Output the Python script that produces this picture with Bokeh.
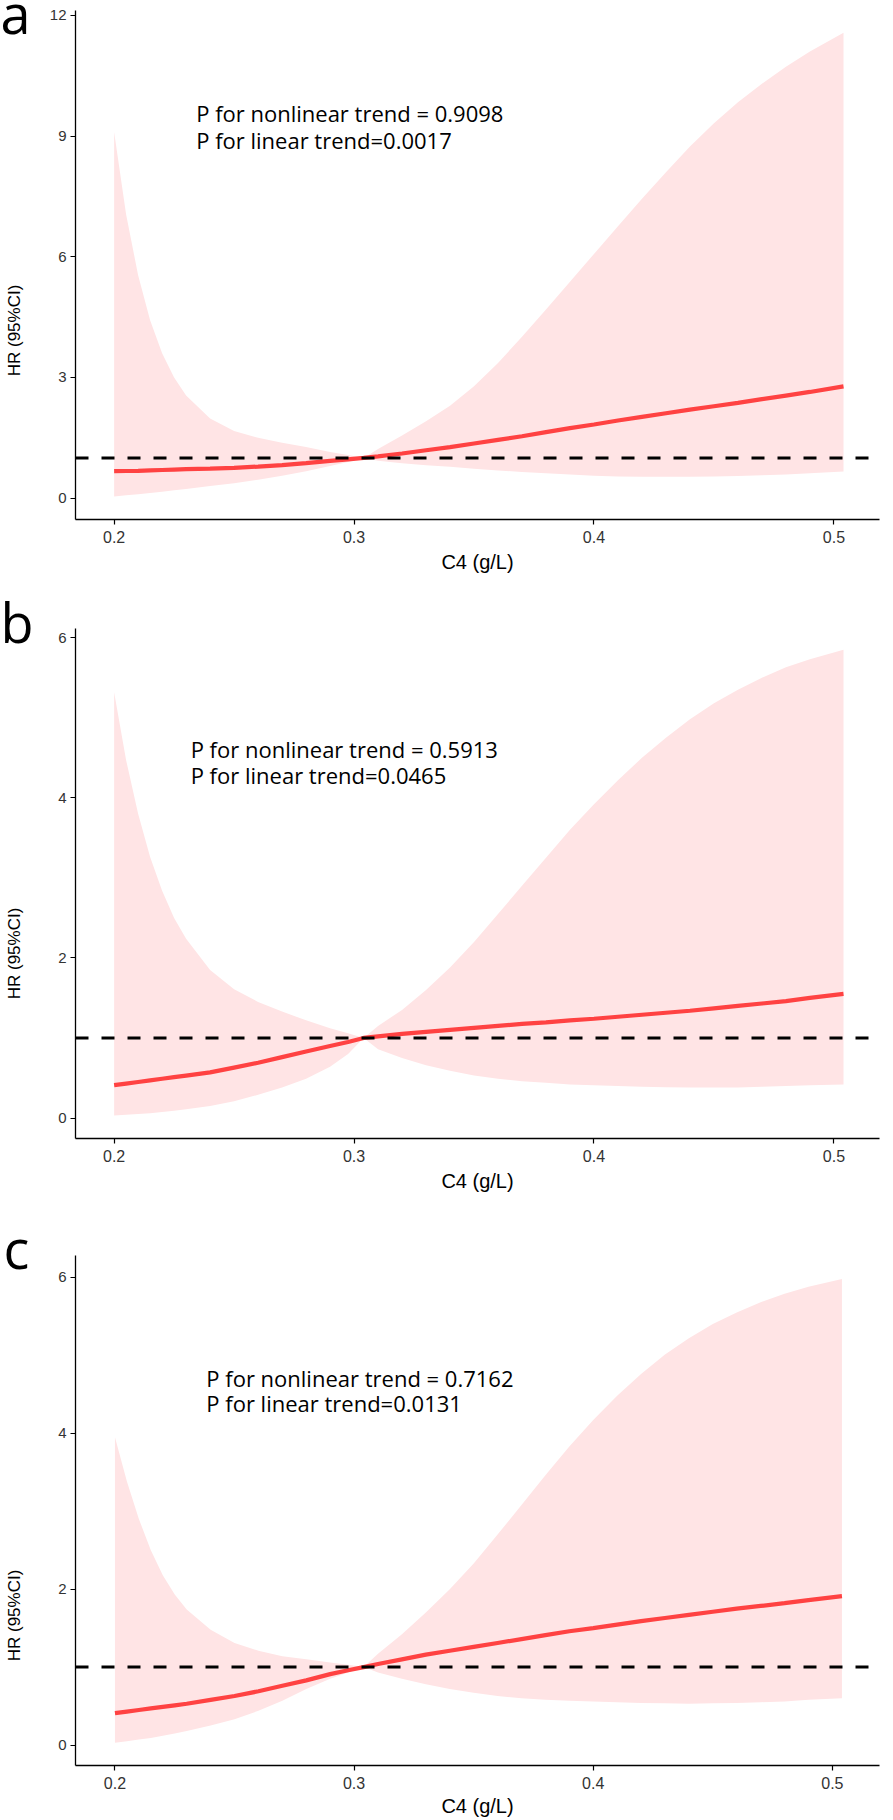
from bokeh.plotting import figure
from bokeh.models import Span, Label, FixedTicker, Range1d
from bokeh.layouts import column, row
from bokeh.core.properties import value
from bokeh.embed import file_html
from bokeh.resources import INLINE

# ---------------- data ----------------
c4 = [0.200, 0.205, 0.210, 0.215, 0.220, 0.225, 0.230, 0.240, 0.250, 0.260,
      0.270, 0.280, 0.290, 0.2975, 0.304, 0.310, 0.320, 0.330, 0.340, 0.350,
      0.360, 0.370, 0.380, 0.390, 0.400, 0.410, 0.420, 0.430, 0.440, 0.450,
      0.460, 0.470, 0.480, 0.490, 0.504]

a_hr = [0.67, 0.675, 0.68, 0.69, 0.70, 0.71, 0.72, 0.735, 0.755, 0.785,
        0.82, 0.87, 0.925, 0.965, 1.00, 1.04, 1.11, 1.19, 1.27, 1.36,
        1.45, 1.54, 1.64, 1.74, 1.83, 1.93, 2.02, 2.11, 2.20, 2.285,
        2.37, 2.46, 2.55, 2.64, 2.78]
a_lo = [0.04, 0.07, 0.10, 0.13, 0.16, 0.20, 0.23, 0.30, 0.37, 0.46,
        0.56, 0.67, 0.80, 0.90, 1.00, 0.93, 0.87, 0.82, 0.78, 0.73,
        0.69, 0.65, 0.62, 0.59, 0.56, 0.54, 0.53, 0.53, 0.53, 0.54,
        0.55, 0.57, 0.59, 0.62, 0.66]
a_hi = [9.10, 7.05, 5.54, 4.42, 3.60, 3.00, 2.55, 1.98, 1.67, 1.50,
        1.38, 1.27, 1.15, 1.07, 1.00, 1.22, 1.56, 1.91, 2.30, 2.78,
        3.36, 4.01, 4.69, 5.38, 6.07, 6.76, 7.44, 8.10, 8.74, 9.32,
        9.84, 10.30, 10.72, 11.10, 11.57]

b_hr = [0.41, 0.43, 0.45, 0.47, 0.49, 0.51, 0.53, 0.57, 0.63, 0.69,
        0.76, 0.83, 0.90, 0.95, 1.00, 1.02, 1.05, 1.075, 1.10, 1.125,
        1.15, 1.175, 1.195, 1.22, 1.24, 1.265, 1.29, 1.315, 1.34, 1.37,
        1.40, 1.43, 1.46, 1.50, 1.55]
b_lo = [0.03, 0.04, 0.05, 0.06, 0.075, 0.09, 0.11, 0.15, 0.21, 0.29,
        0.38, 0.49, 0.64, 0.80, 1.00, 0.86, 0.75, 0.66, 0.59, 0.53,
        0.49, 0.46, 0.44, 0.42, 0.41, 0.40, 0.39, 0.385, 0.38, 0.38,
        0.38, 0.39, 0.40, 0.41, 0.42]
b_hi = [5.32, 4.47, 3.80, 3.26, 2.84, 2.50, 2.24, 1.85, 1.61, 1.45,
        1.33, 1.22, 1.12, 1.06, 1.00, 1.15, 1.35, 1.60, 1.88, 2.20,
        2.55, 2.90, 3.25, 3.60, 3.92, 4.22, 4.50, 4.75, 4.98, 5.18,
        5.35, 5.50, 5.63, 5.73, 5.85]

c_hr = [0.41, 0.43, 0.45, 0.47, 0.49, 0.51, 0.53, 0.58, 0.63, 0.69,
        0.76, 0.83, 0.91, 0.96, 1.00, 1.04, 1.10, 1.16, 1.21, 1.26,
        1.31, 1.36, 1.41, 1.46, 1.50, 1.545, 1.59, 1.63, 1.67, 1.71,
        1.75, 1.785, 1.82, 1.86, 1.91]
c_lo = [0.03, 0.05, 0.07, 0.09, 0.12, 0.15, 0.18, 0.25, 0.33, 0.44,
        0.57, 0.72, 0.85, 0.93, 1.00, 0.93, 0.85, 0.78, 0.72, 0.67,
        0.63, 0.60, 0.58, 0.57, 0.56, 0.55, 0.54, 0.535, 0.53, 0.535,
        0.54, 0.55, 0.56, 0.58, 0.60]
c_hi = [3.95, 3.38, 2.90, 2.50, 2.18, 1.93, 1.74, 1.48, 1.31, 1.21,
        1.14, 1.10, 1.06, 1.03, 1.00, 1.17, 1.42, 1.70, 2.00, 2.33,
        2.70, 3.08, 3.46, 3.83, 4.17, 4.48, 4.76, 5.01, 5.22, 5.40,
        5.55, 5.68, 5.79, 5.88, 5.98]

x_ticks = [0.2, 0.3, 0.4, 0.5]
a_yticks = [0, 3, 6, 9, 12]
bc_yticks = [0, 2, 4, 6]

a_notes = ["P for nonlinear trend = 0.9098", "P for linear trend=0.0017"]
b_notes = ["P for nonlinear trend = 0.5913", "P for linear trend=0.0465"]
c_notes = ["P for nonlinear trend = 0.7162", "P for linear trend=0.0131"]

letters = ["a", "b", "c"]
x_title = "C4 (g/L)"
y_title = "HR (95%CI)"

RED = "#FF4242"
BAND = "#FFE4E5"
STRIP = 40
PAGE_H = 1820
PANEL_H = [600, 620, 600]

# anchor positions (page px from the top / left) of the left-hand texts
letter_x = [0, 0, 3]
letter_anchor = [12, 621, 1247]
ytitle_anchor = [330, 953, 1615]
ytitle_x = 14


def left_strip():
    """One tall strip to the left of the three panels, holding the panel
    letters and the rotated y titles (its ranges are in page pixels)."""
    s = figure(width=STRIP, height=PAGE_H, x_range=Range1d(0, STRIP),
               y_range=Range1d(0, PAGE_H),
               output_backend="svg", toolbar_location=None,
               x_axis_location=None, y_axis_location=None,
               min_border=0, min_border_left=0, min_border_right=0,
               min_border_top=0, min_border_bottom=0)
    s.outline_line_color = None
    s.grid.visible = False
    s.text(x=letter_x, y=[PAGE_H - v for v in letter_anchor], text=letters,
           text_font=value("Open Sans"), text_font_size=value("54px"),
           text_align="left", text_baseline="alphabetic", text_color="black")
    s.text(x=[ytitle_x] * 3, y=[PAGE_H - v for v in ytitle_anchor],
           text=[y_title] * 3, angle=1.5707963,
           text_font=value("Liberation Sans"), text_font_size=value("17px"),
           text_align="center", text_baseline="middle", text_color="black")
    return s


def panel(hr, lo, hi, notes, yticks, xr, yr, w, h, ml, mr, mt, mb,
          note_x, note_y, lab_stand, title_stand):
    p = figure(width=w, height=h, x_range=Range1d(*xr), y_range=Range1d(*yr),
               output_backend="svg", toolbar_location=None,
               min_border_left=ml, min_border_right=mr,
               min_border_top=mt, min_border_bottom=mb)
    p.outline_line_color = None
    p.grid.visible = False
    p.background_fill_color = "white"
    p.border_fill_color = "white"

    p.varea(x=c4, y1=lo, y2=hi, fill_color=BAND, fill_alpha=1.0)
    p.line(x=c4, y=hr, line_color=RED, line_width=4.2)
    p.add_layout(Span(location=1, dimension="width", line_color="black",
                      line_width=3, line_dash="13 13"))

    for ax in (p.xaxis[0], p.yaxis[0]):
        ax.axis_line_color = "black"
        ax.axis_line_width = 1.3
        ax.major_tick_line_color = "black"
        ax.major_tick_line_width = 1.2
        ax.major_tick_out = 5
        ax.major_tick_in = 0
        ax.minor_tick_out = 0
        ax.minor_tick_in = 0
        ax.major_label_text_font = "Liberation Sans"
        ax.major_label_text_color = "#333333"
    p.xaxis.ticker = FixedTicker(ticks=x_ticks)
    p.yaxis.ticker = FixedTicker(ticks=yticks)
    p.xaxis.major_label_text_font_size = "16px"
    p.yaxis.major_label_text_font_size = "15px"
    p.xaxis.major_label_standoff = lab_stand
    p.yaxis.major_label_standoff = 4
    p.xaxis.axis_label = x_title
    p.xaxis.axis_label_text_font = "Liberation Sans"
    p.xaxis.axis_label_text_font_size = "20px"
    p.xaxis.axis_label_text_font_style = "normal"
    p.xaxis.axis_label_text_color = "black"
    p.xaxis.axis_label_standoff = title_stand

    for t, yy in zip(notes, note_y):
        p.add_layout(Label(x=note_x, y=yy, text=t, text_align="left",
                           text_baseline="middle", text_font="Open Sans",
                           text_font_size="22px", text_color="black"))
    return p


W = 893 - STRIP

pa = panel(a_hr, a_lo, a_hi, a_notes, a_yticks,
           (0.1839, 0.519), (-0.53, 12.12), W, PANEL_H[0], 72 - STRIP, 14, 10, 81,
           0.2342, [9.58, 8.91], 6, 5)
pb = panel(b_hr, b_lo, b_hi, b_notes, bc_yticks,
           (0.1839, 0.519), (-0.256, 6.115), W, PANEL_H[1], 75 - STRIP, 2, 28, 82,
           0.2319, [4.61, 4.29], 6, 5)
pc = panel(c_hr, c_lo, c_hi, c_notes, bc_yticks,
           (0.1835, 0.5197), (-0.262, 6.28), W, PANEL_H[2], 70 - STRIP, 7, 35, 55,
           0.2382, [4.71, 4.39], 6, 3)

layout = row(left_strip(), column(pa, pb, pc))
open("out.html", "w").write(file_html(layout, INLINE))
